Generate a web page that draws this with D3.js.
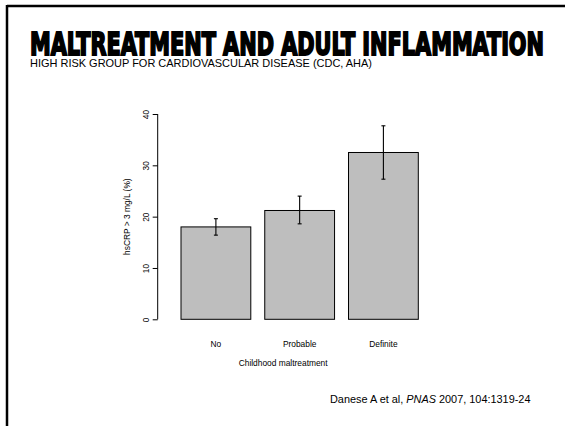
<!DOCTYPE html>
<html><head><meta charset="utf-8">
<script src="https://cdn.jsdelivr.net/npm/d3@7"></script>
<style>body{margin:0;background:#fff}svg{display:block}</style>
</head><body>
<svg id="c" width="565" height="426"></svg>
<script>
const categories = ["No", "Probable", "Definite"];
const values = [18.0, 21.2, 32.5];
const errLow = [16.4, 18.6, 27.3];
const errHigh = [19.6, 24.0, 37.7];
const yTicks = [0, 10, 20, 30, 40];

const svg = d3.select("#c");
// slide frame
svg.append("line").attr("x1", 7).attr("x2", 565).attr("y1", 6).attr("y2", 6)
  .attr("stroke", "#000").attr("stroke-width", 2.5);
svg.append("line").attr("x1", 7).attr("x2", 7).attr("y1", 5).attr("y2", 426)
  .attr("stroke", "#000").attr("stroke-width", 2.5);

svg.append("text").attr("transform", "translate(30,55) scale(1,1.35)")
  .attr("textLength", 514).attr("lengthAdjust", "spacingAndGlyphs")
  .style("font-family", "'DejaVu Sans Condensed','Liberation Sans Narrow',sans-serif")
  .style("font-weight", "bold").style("font-size", "23.5px")
  .attr("stroke", "#000").attr("stroke-width", 1.4).attr("fill", "#000")
  .text("MALTREATMENT AND ADULT INFLAMMATION");

svg.append("text").attr("x", 30).attr("y", 66.5)
  .attr("textLength", 342).attr("lengthAdjust", "spacingAndGlyphs")
  .style("font-family", "'Liberation Sans',Arial,sans-serif").style("font-size", "10.5px")
  .attr("fill", "#000")
  .text("HIGH RISK GROUP FOR CARDIOVASCULAR DISEASE (CDC, AHA)");

const cit = svg.append("text").attr("x", 330).attr("y", 403)
  .style("font-family", "'Liberation Sans',Arial,sans-serif").style("font-size", "10.9px")
  .attr("fill", "#000");
cit.append("tspan").text("Danese A et al, ");
cit.append("tspan").style("font-style", "italic").text("PNAS");
cit.append("tspan").text(" 2007, 104:1319-24");

const x = d3.scaleBand().domain(categories).range([181, 418.3]).paddingInner(1/6).paddingOuter(0);
const y = d3.scaleLinear().domain([0, 40]).range([319.3, 114]);

const font = "'Liberation Sans',Arial,sans-serif";
const yAxis = d3.axisLeft(y).tickValues(yTicks).tickSize(5).tickPadding(0).tickFormat(d3.format("d"));
const ga = svg.append("g").attr("transform", "translate(157.7,0)").call(yAxis);
ga.select(".domain").attr("d", `M0,${y(0)}V${y(40)}`).attr("stroke", "#000").attr("stroke-width", 1);
ga.selectAll(".tick line").attr("stroke", "#000");
ga.selectAll(".tick text")
  .attr("transform", "translate(-12,0) rotate(-90)")
  .attr("x", 0).attr("dy", "0").attr("y", 3)
  .attr("text-anchor", "middle")
  .style("font-family", font).style("font-size", "8.4px").attr("fill", "#000");

svg.append("text")
  .attr("transform", `translate(129.5,${y(20)}) rotate(-90)`)
  .attr("text-anchor", "middle")
  .style("font-family", font).style("font-size", "8.4px").attr("fill", "#000")
  .text("hsCRP > 3 mg/L (%)");

svg.append("g").selectAll("rect").data(categories).join("rect")
  .attr("x", d => x(d)).attr("width", x.bandwidth())
  .attr("y", (d, i) => y(values[i])).attr("height", (d, i) => y(0) - y(values[i]))
  .attr("fill", "#bebebe").attr("stroke", "#000").attr("stroke-width", 1);

const eb = svg.append("g").attr("stroke", "#000").attr("stroke-width", 1.1);
categories.forEach((c, i) => {
  const cx = x(c) + x.bandwidth() / 2;
  eb.append("line").attr("x1", cx).attr("x2", cx).attr("y1", y(errLow[i])).attr("y2", y(errHigh[i]));
  eb.append("line").attr("x1", cx - 2).attr("x2", cx + 2).attr("y1", y(errLow[i])).attr("y2", y(errLow[i]));
  eb.append("line").attr("x1", cx - 2).attr("x2", cx + 2).attr("y1", y(errHigh[i])).attr("y2", y(errHigh[i]));
});

const xAxis = d3.axisBottom(x).tickSize(0).tickPadding(0);
const gx = svg.append("g").attr("transform", "translate(0,340)").call(xAxis);
gx.select(".domain").remove();
gx.selectAll(".tick text").attr("dy", "0").attr("y", 6.7)
  .style("font-family", font).style("font-size", "8.4px").attr("fill", "#000");

svg.append("text").attr("x", x.range()[0] + (x.range()[1] - x.range()[0]) / 2 - 16.5).attr("y", 365.5)
  .attr("text-anchor", "middle")
  .style("font-family", font).style("font-size", "8.4px").attr("fill", "#000")
  .text("Childhood maltreatment");
</script>
</body></html>
